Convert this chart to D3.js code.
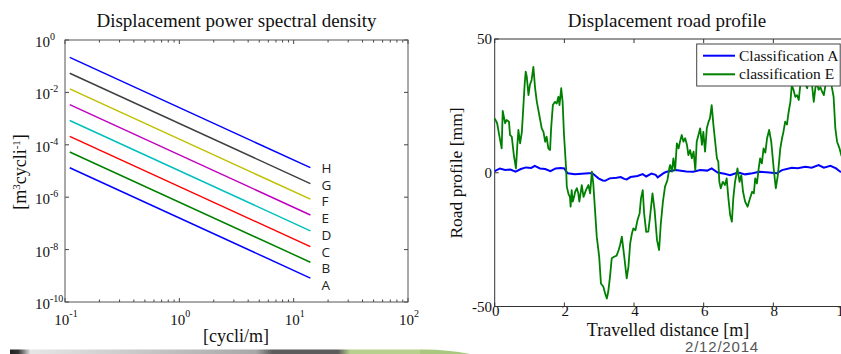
<!DOCTYPE html>
<html>
<head>
<meta charset="utf-8">
<script src="https://cdn.jsdelivr.net/npm/d3@7"></script>
<style>
  body { margin: 0; background: #fff; }
  svg { display: block; }
  .serif { font-family: "Liberation Serif", "Times New Roman", serif; fill: #111; }
</style>
</head>
<body>
<div id="chart"></div>
<script>
// ---- PSD chart data (ISO road classes) ----
var classes = ['A', 'B', 'C', 'D', 'E', 'F', 'G', 'H'];
var classColors = ['#0000ff', '#008000', '#ff0000', '#00bfbf', '#bf00bf', '#bfbf00', '#404040', '#0000ff'];
var freqStart = 0.11;   // cycli/m
var freqEnd = 14;
var psdStart = [1.33e-5, 5.3e-5, 2.1e-4, 8.5e-4, 3.4e-3, 1.36e-2, 5.4e-2, 0.218];
var psdEnd = [8.2e-10, 3.3e-9, 1.3e-8, 5.2e-8, 2.1e-7, 8.4e-7, 3.3e-6, 1.34e-5];
var psdTickExp = [0, -2, -4, -6, -8, -10];
var freqTickExp = [-1, 0, 1, 2];

// ---- road profile data [m] -> [mm] ----
var distE = [0.00, 0.07, 0.13, 0.20, 0.23, 0.30, 0.34, 0.41, 0.44, 0.49, 0.55, 0.61, 0.65, 0.68, 0.73, 0.78, 0.82, 0.86, 0.89, 0.92,
  0.97, 1.01, 1.06, 1.11, 1.16, 1.21, 1.28, 1.35, 1.40, 1.45, 1.49, 1.54, 1.59, 1.62, 1.67, 1.73, 1.78, 1.83, 1.86, 1.91,
  1.95, 1.99, 2.05, 2.07, 2.12, 2.16, 2.18, 2.21, 2.24, 2.28, 2.31, 2.36, 2.40, 2.43, 2.50, 2.55, 2.62, 2.69, 2.74, 2.79,
  2.83, 2.88, 2.93, 3.00, 3.05, 3.12, 3.17, 3.22, 3.26, 3.31, 3.36, 3.43, 3.50, 3.56, 3.60, 3.65, 3.72, 3.79, 3.84, 3.89,
  3.94, 3.98, 4.04, 4.10, 4.16, 4.20, 4.25, 4.29, 4.35, 4.41, 4.46, 4.53, 4.59, 4.66, 4.72, 4.77, 4.83, 4.89, 4.96, 5.02,
  5.04, 5.09, 5.13, 5.18, 5.23, 5.28, 5.32, 5.37, 5.42, 5.47, 5.52, 5.56, 5.61, 5.66, 5.71, 5.76, 5.80, 5.85, 5.90, 5.95,
  5.99, 6.04, 6.09, 6.14, 6.18, 6.23, 6.28, 6.33, 6.38, 6.42, 6.45, 6.49, 6.55, 6.61, 6.66, 6.71, 6.76, 6.81, 6.85, 6.90,
  6.97, 7.03, 7.08, 7.13, 7.19, 7.26, 7.32, 7.39, 7.44, 7.48, 7.53, 7.58, 7.62, 7.67, 7.72, 7.77, 7.82, 7.88, 7.94, 8.01,
  8.07, 8.13, 8.20, 8.25, 8.29, 8.34, 8.39, 8.44, 8.49, 8.53, 8.58, 8.63, 8.68, 8.73, 8.78, 8.83, 8.88, 8.92, 8.97, 9.02,
  9.07, 9.11, 9.16, 9.21, 9.26, 9.30, 9.35, 9.40, 9.45, 9.50, 9.55, 9.60, 9.64, 9.68, 9.73, 9.78, 9.83, 9.90, 9.95, 10.0];
var profileE = [20.3, 18.5, 14.1, 9.1, 23.1, 18.5, 19.7, 19.1, 14.1, 13.5, 6.6, 1.6, 10.4, 16.0, 11.0, 15.3, 24.1, 33.0, 37.8, 36.0,
  29.0, 32.8, 34.7, 39.6, 31.6, 26.5, 21.6, 16.6, 15.3, 11.6, 13.5, 9.1, 8.5, 16.6, 25.3, 26.5, 25.9, 28.4, 25.3, 31.6,
  26.5, 14.1, 1.6, -5.2, -8.0, -9.0, -12.7, -6.5, -10.8, -9.0, -7.1, -5.8, -7.7, -10.8, -4.6, -9.0, -6.5, -4.6, -7.7, 0.4,
  -4.0, -13.9, -23.9, -31.4, -41.4, -42.6, -45.1, -47.0, -44.5, -38.9, -32.0, -31.4, -31.0, -28.9, -27.0, -23.9, -31.4, -39.5, -35.1, -26.4,
  -22.7, -20.8, -21.5, -17.7, -15.2, -9.6, -6.5, -15.2, -22.1, -22.0, -16.4, -7.7, -13.9, -25.2, -28.9, -18.9, -10.8, -5.2, -2.7, 2.2,
  2.9, 0.4, 5.4, 1.0, 11.0, 9.1, 11.6, 14.1, 11.6, 12.9, 10.4, 6.6, 8.5, 5.4, 7.9, 1.0, 11.6, 14.1, 16.6, 10.4,
  15.3, 7.9, 16.6, 19.1, 20.3, 25.3, 17.8, 11.6, 5.4, 4.1, -3.4, -5.8, -3.4, -4.6, -2.1, -9.6, -15.8, -18.3, -9.6, -3.4,
  1.6, -3.4, -0.9, -7.1, -10.8, -12.7, -10.0, -7.1, -7.7, -2.1, -4.0, 1.6, 5.4, 3.5, 9.1, 7.5, 12.9, 16.0, 11.6, 1.6,
  -5.8, -0.9, 9.1, 12.9, 15.3, 19.1, 18.0, 22.8, 26.5, 32.8, 30.9, 28.4, 29.0, 27.2, 33.5, 36.0, 37.0, 33.0, 31.6, 35.0,
  38.0, 33.0, 26.5, 32.0, 33.0, 31.0, 32.0, 30.3, 29.0, 33.0, 38.0, 41.0, 36.0, 32.0, 28.4, 16.6, 11.6, 9.1, 6.6, 5.0];
var distA = [0.0, 0.15, 0.3, 0.45, 0.6, 0.75, 0.9, 1.05, 1.15, 1.3, 1.45, 1.6, 1.75, 1.9, 2.0, 2.05, 2.1, 2.3, 2.5, 2.7,
  2.8, 2.9, 2.98, 3.1, 3.17, 3.3, 3.5, 3.62, 3.72, 3.79, 3.9, 4.1, 4.25, 4.35, 4.5, 4.62, 4.68, 4.8, 4.87, 4.94,
  5.2, 5.5, 5.7, 5.9, 6.1, 6.23, 6.4, 6.6, 6.76, 6.9, 7.0, 7.19, 7.4, 7.6, 7.8, 8.1, 8.25, 8.53, 8.7, 8.92,
  9.1, 9.3, 9.45, 9.64, 9.8, 9.92, 10.0];
var profileA = [0.6, 1.6, 1.0, 1.2, 0.4, 1.4, 2.0, 1.8, 2.6, 1.6, 1.4, 0.6, 1.6, 1.8, 1.6, 0.5, -0.2, -0.6, -0.4, -0.2,
  -0.2, -1.2, -2.1, -2.9, -3.0, -2.1, -1.9, -1.6, -2.3, -2.5, -1.6, -1.2, -0.5, -1.4, -0.3, -0.8, -1.7, -0.6, 0.0, 0.4,
  1.0, 0.5, 0.4, 1.0, 0.8, 1.6, 0.1, -0.4, -0.9, -0.3, 0.1, -0.6, -0.2, 0.4, 0.2, -0.2, 1.0, 1.9, 1.7, 2.2,
  1.9, 2.9, 1.9, 2.6, 1.6, 0.4, 0.2];
var profileTicks = [-50, 0, 50];
var distTicks = [0, 2, 4, 6, 8, 10];
var legendLabels = ['Classification A', 'classification E'];

var W = 841, H = 354;
var svg = d3.select('#chart').append('svg')
    .attr('width', W)
    .attr('height', H);

// ================= left: PSD =================
var x1 = d3.scaleLog().domain([0.1, 100]).range([65, 408]);
var y1 = d3.scaleLog().domain([1e-10, 1]).range([302, 40]);
var g1 = svg.append('g');

// minor + major x ticks (top and bottom, inward)
var xMinor = [];
for (var e = -1; e < 2; e++) {
    for (var m = 1; m < 10; m++) xMinor.push(m * Math.pow(10, e));
}
xMinor.push(100);
xMinor.forEach(function(v) {
    var major = Math.abs(Math.log10(v) - Math.round(Math.log10(v))) < 1e-9;
    var len = major ? 4 : 2.5;
    g1.append('line').attr('x1', x1(v)).attr('x2', x1(v)).attr('y1', 302).attr('y2', 302 - len)
        .attr('stroke', '#444').attr('stroke-width', 1);
    g1.append('line').attr('x1', x1(v)).attr('x2', x1(v)).attr('y1', 40).attr('y2', 40 + len)
        .attr('stroke', '#444').attr('stroke-width', 1);
});
psdTickExp.forEach(function(ex) {
    var yy = y1(Math.pow(10, ex));
    g1.append('line').attr('x1', 65).attr('x2', 69).attr('y1', yy).attr('y2', yy).attr('stroke', '#444');
    g1.append('line').attr('x1', 408).attr('x2', 404).attr('y1', yy).attr('y2', yy).attr('stroke', '#444');
    var t = g1.append('text').attr('class', 'serif')
        .attr('x', 35).attr('y', yy + 7)
        .style('font-size', '15px');
    t.append('tspan').text('10');
    t.append('tspan').attr('dy', -7).style('font-size', '10px').text(ex);
});
freqTickExp.forEach(function(ex) {
    var t = g1.append('text').attr('class', 'serif')
        .attr('x', x1(Math.pow(10, ex)) + 1).attr('y', 325)
        .attr('text-anchor', 'middle')
        .style('font-size', '15px');
    t.append('tspan').text('10');
    t.append('tspan').attr('dy', -8).style('font-size', '10px').text(ex);
});

g1.append('rect').attr('x', 65).attr('y', 40).attr('width', 343).attr('height', 262)
    .attr('fill', 'none').attr('stroke', '#555').attr('stroke-width', 1);

var psdLine = d3.line()
    .x(function(d) { return x1(d[0]); })
    .y(function(d) { return y1(d[1]); });

classes.forEach(function(c, i) {
    g1.append('path')
        .attr('d', psdLine([[freqStart, psdStart[i]], [freqEnd, psdEnd[i]]]))
        .attr('fill', 'none')
        .attr('stroke', classColors[i])
        .attr('stroke-width', 1.5);
    g1.append('text')
        .attr('x', x1(17.5))
        .attr('y', y1(psdEnd[i]) + (7 - i) * 1.0 + 5)
        .style('font-family', '"Open Sans", "Noto Sans", sans-serif')
        .style('font-size', '13.5px')
        .style('fill', '#222')
        .text(c);
});

g1.append('text').attr('class', 'serif')
    .attr('x', 236.5).attr('y', 27).attr('text-anchor', 'middle')
    .style('font-size', '19px')
    .text('Displacement power spectral density');

g1.append('text').attr('class', 'serif')
    .attr('x', 236).attr('y', 342).attr('text-anchor', 'middle')
    .style('font-size', '18px')
    .text('[cycli/m]');

var yl = g1.append('text').attr('class', 'serif')
    .attr('transform', 'translate(26,172) rotate(-90)')
    .attr('text-anchor', 'middle')
    .style('font-size', '18px');
yl.append('tspan').text('[m');
yl.append('tspan').attr('dy', -6).style('font-size', '11px').text('3');
yl.append('tspan').attr('dy', 6).text('cycli');
yl.append('tspan').attr('dy', -6).style('font-size', '11px').text('-1');
yl.append('tspan').attr('dy', 6).text(']');

// ================= right: road profile =================
var x2 = d3.scaleLinear().domain([0, 10]).range([494.7, 843]);
var y2 = d3.scaleLinear().domain([-50, 50]).range([306.5, 39]);
var g2 = svg.append('g');

distTicks.forEach(function(v) {
    g2.append('line').attr('x1', x2(v)).attr('x2', x2(v)).attr('y1', 306.5).attr('y2', 302.5).attr('stroke', '#333');
    g2.append('line').attr('x1', x2(v)).attr('x2', x2(v)).attr('y1', 39).attr('y2', 43).attr('stroke', '#333');
    g2.append('text').attr('class', 'serif')
        .attr('x', x2(v) + 1).attr('y', 316).attr('text-anchor', 'middle')
        .style('font-size', '15px')
        .text(v);
});
profileTicks.forEach(function(v) {
    g2.append('line').attr('x1', 494.7).attr('x2', 498.7).attr('y1', y2(v)).attr('y2', y2(v)).attr('stroke', '#333');
    g2.append('text').attr('class', 'serif')
        .attr('x', 492).attr('y', y2(v) + 5).attr('text-anchor', 'end')
        .style('font-size', '15px')
        .text(v);
});

g2.append('rect').attr('x', 494.7).attr('y', 39).attr('width', 348.3).attr('height', 267.5)
    .attr('fill', 'none').attr('stroke', '#333').attr('stroke-width', 1);

var profLine = d3.line()
    .x(function(d) { return x2(d[0]); })
    .y(function(d) { return y2(d[1]); });

g2.append('path')
    .attr('d', profLine(distA.map(function(d, i) { return [d, profileA[i]]; })))
    .attr('fill', 'none').attr('stroke', '#0000ff').attr('stroke-width', 2);
g2.append('path')
    .attr('d', profLine(distE.map(function(d, i) { return [d, profileE[i]]; })))
    .attr('fill', 'none').attr('stroke', '#008000').attr('stroke-width', 1.8)
    .attr('stroke-linejoin', 'round');

// legend
var lg = g2.append('g');
lg.append('rect').attr('x', 696.7).attr('y', 44).attr('width', 143.5).attr('height', 42)
    .attr('fill', '#fff').attr('stroke', '#444').attr('stroke-width', 1);
['#0000ff', '#008000'].forEach(function(col, i) {
    var yy = 55.7 + i * 18.6;
    lg.append('line').attr('x1', 703).attr('x2', 735).attr('y1', yy).attr('y2', yy)
        .attr('stroke', col).attr('stroke-width', 2);
    lg.append('text').attr('class', 'serif')
        .attr('x', 739).attr('y', yy + 5)
        .style('font-size', '15.5px')
        .text(legendLabels[i]);
});

g2.append('text').attr('class', 'serif')
    .attr('x', 667).attr('y', 27).attr('text-anchor', 'middle')
    .style('font-size', '19px')
    .text('Displacement road profile');
g2.append('text').attr('class', 'serif')
    .attr('x', 668).attr('y', 336).attr('text-anchor', 'middle')
    .style('font-size', '18px')
    .text('Travelled distance [m]');
g2.append('text').attr('class', 'serif')
    .attr('transform', 'translate(462,173) rotate(-90)')
    .attr('text-anchor', 'middle')
    .style('font-size', '17.5px')
    .text('Road profile [mm]');

// ================= slide footer =================
var defs = svg.append('defs');
var grad = defs.append('linearGradient').attr('id', 'foot');
[[0, '#222'], [0.02, '#333'], [0.05, '#e6e6e6'], [0.6, '#a8a8a8'], [0.64, '#5c5c5c'], [0.8, '#5c5c5c'], [0.83, '#b8d08e'], [1, '#b8d08e']]
    .forEach(function(s) {
        grad.append('stop').attr('offset', s[0]).attr('stop-color', s[1]);
    });
svg.append('rect').attr('x', 10).attr('y', 349.5).attr('width', 410).attr('height', 5).attr('fill', 'url(#foot)');
svg.append('path')
    .attr('d', 'M420,349.5 Q445,349 470,354 L420,354 Z')
    .attr('fill', '#a9c77f');
svg.append('text')
    .attr('x', 685).attr('y', 352)
    .style('font-family', '"Liberation Sans", Arial, sans-serif')
    .style('font-size', '15px')
    .style('letter-spacing', '0.8px')
    .style('fill', '#555')
    .text('2/12/2014');
</script>
</body>
</html>
